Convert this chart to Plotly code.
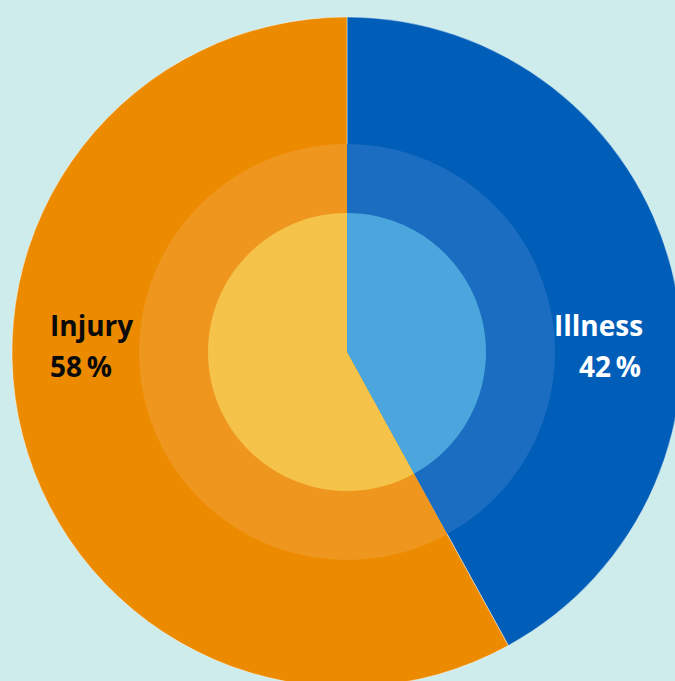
import plotly.graph_objects as go

categories = ["Illness", "Injury"]
values = [42, 58]
outer_colors = ["#005eb8", "#ed8b00"]
middle_colors = ["#1a6dc0", "#ee961e"]
inner_colors = ["#4aa6dc", "#f6c34a"]

W, H = 690, 700
L, T = 12, 17
S = 670  # plot area side
fig = go.Figure()

def dom(r_px):
    c = S / 2
    return dict(x=[(c - r_px) / S, (c + r_px) / S], y=[(c - r_px) / S, (c + r_px) / S])

for cols, r in [(outer_colors, 335), (middle_colors, 208), (inner_colors, 139)]:
    fig.add_trace(go.Pie(
        labels=categories, values=values, sort=False, direction="clockwise", rotation=0,
        marker=dict(colors=cols, line=dict(color="rgba(255,255,255,0.4)", width=1 if r == 335 else 0)),
        textinfo="none", hoverinfo="label+percent", domain=dom(r), showlegend=False,
    ))

def px_x(x):
    return (x - L) / S

def px_y(y):
    return 1 - (y - T) / S

font_kw = dict(family="Open Sans", size=28)
# Injury (left, black)
fig.add_annotation(x=px_x(48), y=px_y(325), xref="paper", yref="paper", text=f"<b>{categories[1]}</b>",
                   showarrow=False, xanchor="left", yanchor="middle", font=dict(color="#0a0a0a", **font_kw))
fig.add_annotation(x=px_x(48), y=px_y(366), xref="paper", yref="paper", text=f"<b>{values[1]}\u2009%</b>",
                   showarrow=False, xanchor="left", yanchor="middle", font=dict(color="#0a0a0a", **font_kw))
# Illness (right, white)
fig.add_annotation(x=px_x(645), y=px_y(325), xref="paper", yref="paper", text=f"<b>{categories[0]}</b>",
                   showarrow=False, xanchor="right", yanchor="middle", font=dict(color="#ffffff", **font_kw))
fig.add_annotation(x=px_x(643), y=px_y(366), xref="paper", yref="paper", text=f"<b>{values[0]}\u2009%</b>",
                   showarrow=False, xanchor="right", yanchor="middle", font=dict(color="#ffffff", **font_kw))

fig.update_layout(
    width=W, height=H, margin=dict(l=L, r=W - L - S, t=T, b=H - T - S),
    paper_bgcolor="#cdeceb", plot_bgcolor="#cdeceb",
)

fig.write_html("out.html", config={"displayModeBar": False}, post_script=(
    "document.body.style.margin='0';document.body.style.overflow='hidden';"
    "document.documentElement.style.overflow='hidden';document.body.style.background='#cdeceb';"
))
